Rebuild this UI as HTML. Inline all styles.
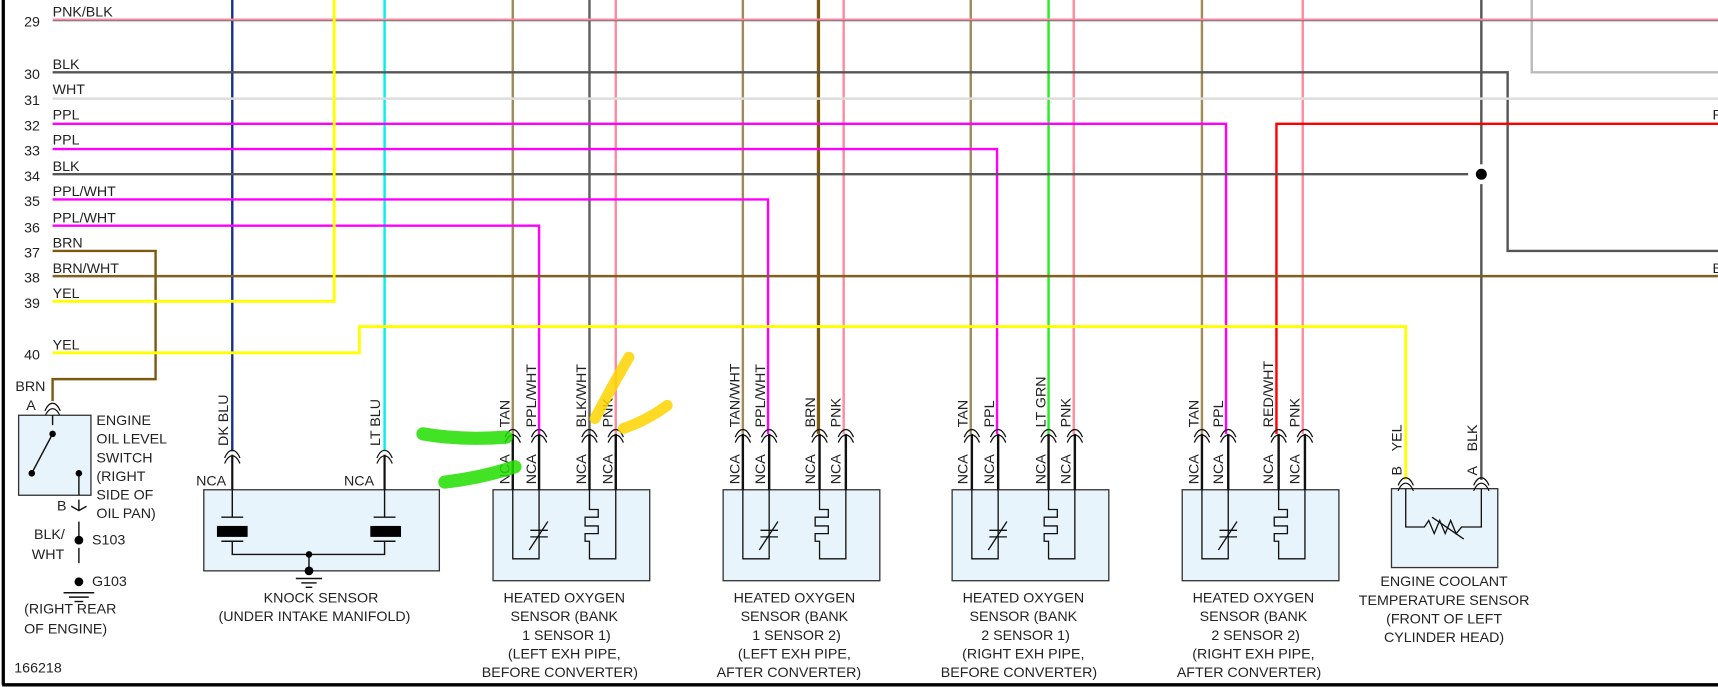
<!DOCTYPE html>
<html><head><meta charset="utf-8"><style>
html,body{margin:0;padding:0;background:#fff;}
svg{display:block;}
text{font-family:"Liberation Sans",Arial,sans-serif;fill:#222;font-size:13px;}
</style></head><body>
<svg width="1718" height="687" viewBox="0 0 1568 627" xmlns="http://www.w3.org/2000/svg">
<defs>
<g id="c"><path d="M-7,3 Q-4,-4 0,-4 Q4,-4 7,3 M-7,8 Q-4,1 0,1 Q4,1 7,8" stroke="#111" stroke-width="1.1" fill="none"/></g>
</defs>
<rect width="1568" height="627" fill="#fff"/>
<line x1="3" y1="0" x2="3" y2="625" stroke="#000" stroke-width="3"/>
<line x1="2" y1="625" x2="1568" y2="625" stroke="#000" stroke-width="3"/>

<g fill="none" stroke-width="2.2">
<line x1="212" y1="0" x2="212" y2="412" stroke="#1a2f8a"/>
<line x1="351" y1="0" x2="351" y2="412" stroke="#00f0f0"/>
<line x1="468" y1="0" x2="468" y2="396" stroke="#a08a58"/>
<line x1="538" y1="0" x2="538" y2="396" stroke="#606060"/>
<line x1="562" y1="0" x2="562" y2="396" stroke="#ff8aa0"/>
<line x1="678" y1="0" x2="678" y2="396" stroke="#a08a58"/>
<line x1="747" y1="0" x2="747" y2="396" stroke="#7a5a10" stroke-width="3"/>
<line x1="770" y1="0" x2="770" y2="396" stroke="#ff8aa0"/>
<line x1="886" y1="0" x2="886" y2="396" stroke="#a08a58"/>
<line x1="957" y1="0" x2="957" y2="396" stroke="#22ee22"/>
<line x1="980" y1="0" x2="980" y2="396" stroke="#ff8aa0"/>
<line x1="1097" y1="0" x2="1097" y2="396" stroke="#a08a58"/>
<line x1="1189" y1="0" x2="1189" y2="396" stroke="#ff8aa0"/>
<polyline points="1398,0 1398,66 1568,66" stroke="#bbb"/>
<polyline points="1352,0 1352,150" stroke="#555"/>
<polyline points="1352,168 1352,438" stroke="#555"/>
</g>

<g fill="none" stroke-width="2.2">
<line x1="48" y1="18" x2="1568" y2="18" stroke="#ff8aa0"/>
<line x1="48" y1="19" x2="1568" y2="19" stroke="#666" stroke-width="0.8"/>
<polyline points="48,66 1376,66 1376,229 1568,229" stroke="#555"/>
<line x1="48" y1="90" x2="1568" y2="90" stroke="#ddd"/>
<polyline points="48,113 1119,113 1119,396" stroke="#ff00ff"/>
<polyline points="1568,113 1165,113 1165,396" stroke="#ff0000"/>
<polyline points="48,136 910,136 910,396" stroke="#ff00ff"/>
<line x1="48" y1="159" x2="1340" y2="159" stroke="#555"/>
<polyline points="48,182 701,182 701,396" stroke="#ff00ff"/>
<polyline points="48,206 492,206 492,396" stroke="#ff00ff"/>
<polyline points="48,229 142,229 142,346 48,346 48,366" stroke="#7a5a10"/>
<line x1="48" y1="252" x2="1568" y2="252" stroke="#806020"/>
<polyline points="48,275 305,275 305,0" stroke="#ffff00" stroke-width="2.6"/>
<polyline points="48,322 328,322 328,298 1283,298 1283,438" stroke="#ffff00" stroke-width="2.6"/>
</g>
<circle cx="1352" cy="159" r="5" fill="#000"/>

<g>
<text x="22" y="24">29</text><text x="48" y="15">PNK/BLK</text>
<text x="22" y="72">30</text><text x="48" y="63">BLK</text>
<text x="22" y="96">31</text><text x="48" y="86">WHT</text>
<text x="22" y="119">32</text><text x="48" y="109">PPL</text>
<text x="22" y="142">33</text><text x="48" y="132">PPL</text>
<text x="22" y="165">34</text><text x="48" y="156">BLK</text>
<text x="22" y="188">35</text><text x="48" y="179">PPL/WHT</text>
<text x="22" y="212">36</text><text x="48" y="203">PPL/WHT</text>
<text x="22" y="235">37</text><text x="48" y="226">BRN</text>
<text x="22" y="258">38</text><text x="48" y="249">BRN/WHT</text>
<text x="22" y="281">39</text><text x="48" y="272">YEL</text>
<text x="22" y="328">40</text><text x="48" y="319">YEL</text>
<text x="1563" y="109">R</text><text x="1563" y="249">B</text>
</g>

<text x="14" y="357">BRN</text>
<text x="24" y="374">A</text>
<use href="#c" x="48" y="372"/>
<rect x="17" y="379" width="66" height="73" fill="#e8f4fc" stroke="#333" stroke-width="1.2"/>
<g stroke="#111" stroke-width="1.3" fill="none">
<line x1="48" y1="379" x2="48" y2="388"/>
<line x1="48" y1="396" x2="30" y2="430"/>
<line x1="72" y1="432" x2="72" y2="452"/>
<line x1="72" y1="456" x2="72" y2="466"/>
<line x1="72" y1="476" x2="72" y2="490"/>
<line x1="72" y1="500" x2="72" y2="514"/>
<line x1="58" y1="541" x2="86" y2="541"/><line x1="63" y1="545" x2="81" y2="545"/><line x1="68" y1="549" x2="76" y2="549"/>
<path d="M65,462 L72,466 L79,462"/>
</g>
<circle cx="48" cy="396" r="3" fill="#000"/><circle cx="29" cy="432" r="3" fill="#000"/><circle cx="72" cy="432" r="3" fill="#000"/>
<circle cx="72" cy="493" r="4" fill="#000"/><circle cx="72" cy="531" r="4" fill="#000"/>
<text x="88" y="388">ENGINE</text><text x="88" y="405">OIL LEVEL</text><text x="88" y="422">SWITCH</text>
<text x="88" y="439">(RIGHT</text><text x="88" y="456">SIDE OF</text><text x="88" y="473">OIL PAN)</text>
<text x="52" y="466">B</text>
<text x="31" y="492">BLK/</text><text x="29" y="510">WHT</text>
<text x="84" y="497">S103</text><text x="84" y="535">G103</text>
<text x="22" y="560">(RIGHT REAR</text><text x="22" y="578">OF ENGINE)</text>
<text x="13" y="614">166218</text>

<use href="#c" x="212" y="415"/><use href="#c" x="351" y="415"/>
<rect x="186" y="447" width="215" height="74" fill="#e8f4fc" stroke="#333" stroke-width="1.2"/>
<g stroke="#111" stroke-width="1.3" fill="none">
<line x1="212" y1="415" x2="212" y2="447" stroke-width="2"/><line x1="351" y1="415" x2="351" y2="447" stroke-width="2"/>
<line x1="212" y1="447" x2="212" y2="472"/><line x1="202" y1="472" x2="222" y2="472"/>
<line x1="202" y1="494" x2="222" y2="494"/><polyline points="212,494 212,506 351,506 351,494"/>
<line x1="341" y1="494" x2="361" y2="494"/>
<line x1="351" y1="447" x2="351" y2="472"/><line x1="341" y1="472" x2="361" y2="472"/>
<line x1="282" y1="506" x2="282" y2="521"/>
<line x1="270" y1="528" x2="294" y2="528"/><line x1="275" y1="532" x2="289" y2="532"/><line x1="279" y1="536" x2="285" y2="536"/>
</g>
<rect x="198" y="480" width="28" height="10" fill="#000"/><rect x="338" y="480" width="28" height="10" fill="#000"/>
<circle cx="282" cy="506" r="3" fill="#000"/><circle cx="282" cy="521" r="4" fill="#000"/>
<text x="179" y="443">NCA</text><text x="314" y="443">NCA</text>
<text transform="translate(208,407) rotate(-90)">DK BLU</text>
<text transform="translate(347,407) rotate(-90)">LT BLU</text>
<text x="293" y="550" text-anchor="middle">KNOCK SENSOR</text>
<text x="287" y="567" text-anchor="middle">(UNDER INTAKE MANIFOLD)</text>

<g id="o2a">
<rect x="450" y="447" width="143" height="83" fill="#e8f4fc" stroke="#333" stroke-width="1.2"/>
<g stroke="#111" fill="none">
<line x1="468" y1="396" x2="468" y2="447" stroke-width="2.2"/><line x1="492" y1="396" x2="492" y2="447" stroke-width="2.2"/>
<line x1="538" y1="396" x2="538" y2="447" stroke-width="2.2"/><line x1="562" y1="396" x2="562" y2="447" stroke-width="2.2"/>
<polyline points="468,447 468,510 492,510 492,447" stroke-width="1.2"/>
<line x1="484" y1="484" x2="500" y2="484" stroke-width="1.2"/><line x1="484" y1="490" x2="500" y2="490" stroke-width="1.2"/>
<line x1="483" y1="502" x2="500" y2="476" stroke-width="1.2"/>
<polyline points="538,447 538,465 546,465 546,472 534,472 534,480 546,480 546,487 534,487 534,494 538,494 538,510 562,510 562,447" stroke-width="1.2"/>
</g>
<use href="#c" x="468" y="396"/><use href="#c" x="492" y="396"/><use href="#c" x="538" y="396"/><use href="#c" x="562" y="396"/>
</g>
<use href="#o2a" x="210"/>
<use href="#o2a" x="419"/>
<use href="#o2a" x="629"/>

<g>
<text transform="translate(465,390) rotate(-90)">TAN</text>
<text transform="translate(489,390) rotate(-90)">PPL/WHT</text>
<text transform="translate(535,390) rotate(-90)">BLK/WHT</text>
<text transform="translate(559,390) rotate(-90)">PNK</text>
<text transform="translate(675,390) rotate(-90)">TAN/WHT</text>
<text transform="translate(698,390) rotate(-90)">PPL/WHT</text>
<text transform="translate(744,390) rotate(-90)">BRN</text>
<text transform="translate(767,390) rotate(-90)">PNK</text>
<text transform="translate(883,390) rotate(-90)">TAN</text>
<text transform="translate(907,390) rotate(-90)">PPL</text>
<text transform="translate(954,390) rotate(-90)">LT GRN</text>
<text transform="translate(977,390) rotate(-90)">PNK</text>
<text transform="translate(1094,390) rotate(-90)">TAN</text>
<text transform="translate(1116,390) rotate(-90)">PPL</text>
<text transform="translate(1162,390) rotate(-90)">RED/WHT</text>
<text transform="translate(1186,390) rotate(-90)">PNK</text>
<text transform="translate(465,442) rotate(-90)">NCA</text><text transform="translate(489,442) rotate(-90)">NCA</text>
<text transform="translate(535,442) rotate(-90)">NCA</text><text transform="translate(559,442) rotate(-90)">NCA</text>
<text transform="translate(675,442) rotate(-90)">NCA</text><text transform="translate(698,442) rotate(-90)">NCA</text>
<text transform="translate(744,442) rotate(-90)">NCA</text><text transform="translate(767,442) rotate(-90)">NCA</text>
<text transform="translate(883,442) rotate(-90)">NCA</text><text transform="translate(907,442) rotate(-90)">NCA</text>
<text transform="translate(954,442) rotate(-90)">NCA</text><text transform="translate(977,442) rotate(-90)">NCA</text>
<text transform="translate(1094,442) rotate(-90)">NCA</text><text transform="translate(1116,442) rotate(-90)">NCA</text>
<text transform="translate(1162,442) rotate(-90)">NCA</text><text transform="translate(1186,442) rotate(-90)">NCA</text>
<text transform="translate(1279,434) rotate(-90)">B</text>
<text transform="translate(1279,412) rotate(-90)">YEL</text>
<text transform="translate(1348,434) rotate(-90)">A</text>
<text transform="translate(1348,412) rotate(-90)">BLK</text>
</g>

<g text-anchor="middle">
<text x="515" y="550">HEATED OXYGEN</text><text x="515" y="567">SENSOR (BANK</text><text x="517" y="584">1 SENSOR 1)</text><text x="515" y="601">(LEFT EXH PIPE,</text><text x="511" y="618">BEFORE CONVERTER)</text>
<text x="725" y="550">HEATED OXYGEN</text><text x="725" y="567">SENSOR (BANK</text><text x="727" y="584">1 SENSOR 2)</text><text x="725" y="601">(LEFT EXH PIPE,</text><text x="720" y="618">AFTER CONVERTER)</text>
<text x="934" y="550">HEATED OXYGEN</text><text x="934" y="567">SENSOR (BANK</text><text x="936" y="584">2 SENSOR 1)</text><text x="934" y="601">(RIGHT EXH PIPE,</text><text x="930" y="618">BEFORE CONVERTER)</text>
<text x="1144" y="550">HEATED OXYGEN</text><text x="1144" y="567">SENSOR (BANK</text><text x="1146" y="584">2 SENSOR 2)</text><text x="1144" y="601">(RIGHT EXH PIPE,</text><text x="1140" y="618">AFTER CONVERTER)</text>
<text x="1318" y="535">ENGINE COOLANT</text><text x="1318" y="552">TEMPERATURE SENSOR</text><text x="1318" y="569">(FRONT OF LEFT</text><text x="1318" y="586">CYLINDER HEAD)</text>
</g>

<rect x="1270" y="446" width="97" height="72" fill="#e8f4fc" stroke="#333" stroke-width="1.2"/>
<use href="#c" x="1283" y="440"/><use href="#c" x="1352" y="440"/>
<g stroke="#111" fill="none" stroke-width="1.2">
<polyline points="1283,446 1283,481 1300,481 1304,475 1309,487 1314,475 1319,487 1324,475 1329,487 1334,481 1352,481 1352,446"/>
<line x1="1307" y1="472" x2="1336" y2="492"/>
</g>

<g fill="none" stroke-linecap="round" opacity="0.85">
<path d="M386,396 Q420,402 462,399" stroke="#22dd00" stroke-width="12"/>
<path d="M406,440 Q440,436 470,426" stroke="#22dd00" stroke-width="12"/>
<path d="M574,326 Q560,350 543,382" stroke="#ffd400" stroke-width="10"/>
<path d="M609,370 Q590,384 569,391" stroke="#ffd400" stroke-width="10"/>
</g>
</svg>
</body></html>
